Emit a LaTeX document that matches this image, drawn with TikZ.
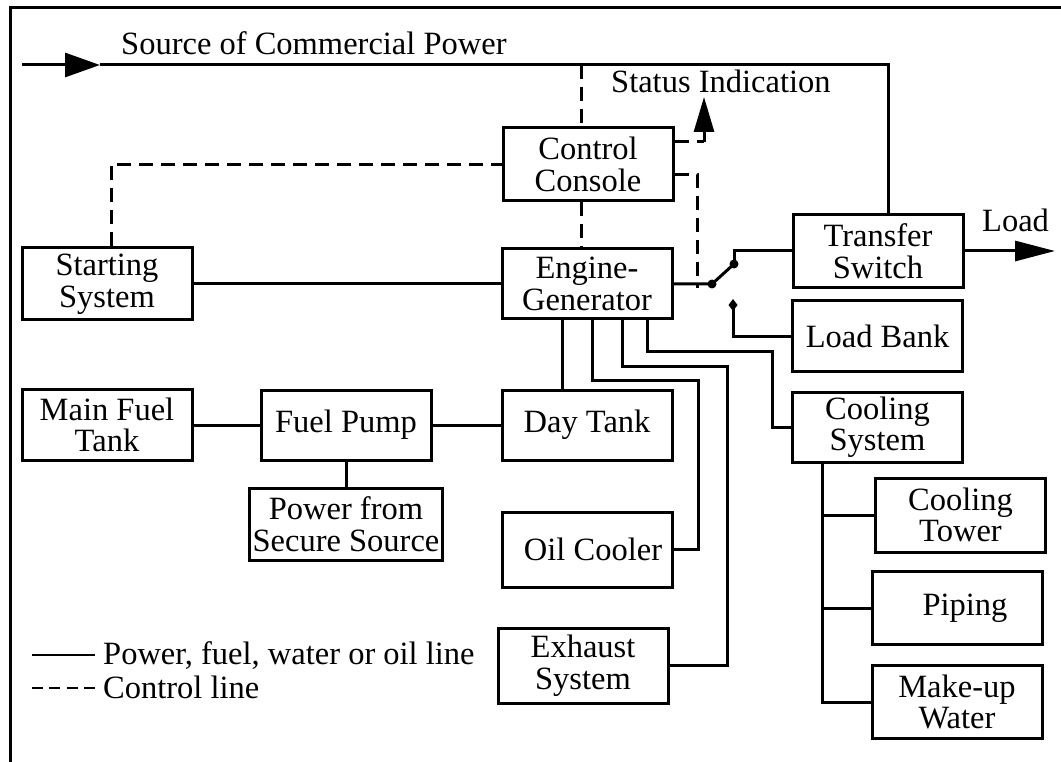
\documentclass[tikz,border=0pt]{standalone}
\usepackage{fontspec}
\setmainfont{Liberation Serif}
\usetikzlibrary{arrows.meta}
\begin{document}
\begin{tikzpicture}[x=1pt,y=-1pt,
  font=\fontsize{32.5}{31.5}\selectfont,
  blk/.style={draw,line width=3pt,align=center,inner sep=0pt,
              minimum width=170pt,minimum height=72pt},
  pw/.style={line width=3pt},
  ctrl/.style={line width=3pt,dash pattern=on 14pt off 8pt},
  dotc/.style={fill=black}]
\useasboundingbox (0,0) rectangle (1061,762);

% frame
\draw[line width=3pt] (10,762) -- (10,8) -- (1061,8);

% blocks
\node[blk,minimum height=73pt] (cc) at (588,164.5) {Control\\Console};
\node[blk,minimum height=70pt] (eg) at (587,284) {Engine-\\Generator};
\node[blk] (ss) at (107,284) {Starting\\System};
\node[blk,minimum height=73pt] (ts) at (878,251) {Transfer\\Switch};
\node[blk,minimum height=70pt] (lb) at (877.5,336) {Load Bank};
\node[blk,minimum height=70pt] (cs) at (877.5,427) {Cooling\\System};
\node[blk,minimum height=71pt] (mft) at (107,425) {Main Fuel\\Tank};
\node[blk,minimum height=70pt] (fp) at (346,425) {Fuel Pump};
\node[blk,minimum height=70pt] (dt) at (587,425) {Day Tank};
\node[blk,minimum width=193pt] (pfss) at (346,524) {Power from\\Secure Source};
\node[blk,minimum height=75pt] (oc) at (587,549.5) {\hspace*{12pt}Oil Cooler};
\node[blk,minimum height=75pt] (es) at (583,665.5) {Exhaust\\System};
\node[blk,minimum height=74pt] (ct) at (960.5,515) {Cooling\\Tower};
\node[blk,minimum height=73pt] (pi) at (957,608) {\hspace*{16pt}Piping};
\node[blk,minimum height=73pt] (mw) at (957,702) {Make-up\\Water};

% labels
\node[anchor=base west,inner sep=0pt] (srclbl) at (121,55) {Source of Commercial Power};
\node[anchor=base west,inner sep=0pt] (stlbl) at (611,93) {Status Indication};
\node[anchor=base west,inner sep=0pt] (ldlbl) at (982,232) {Load};

% commercial power feed
\coordinate (src) at (22,65);
\coordinate (srcarrow) at (100,65);
\draw[pw,-{Triangle[length=35pt,width=24pt]}] (src) -- (srcarrow);
\draw[pw] (srcarrow) -| ([xshift=10pt]ts.north);

% load output
\coordinate (loadend) at (1055,251);
\draw[pw,-{Triangle[length=40pt,width=20pt]}] (ts.east) -- (loadend);

% control lines
\coordinate (tap) at (581,65);
\draw[ctrl] (tap) -- (tap |- cc.north);
\draw[ctrl] (cc.south -| tap) -- (eg.north -| tap);
\draw[ctrl] ([xshift=4pt]ss.north) |- (cc.west);
\coordinate (stc) at (704,142);
\coordinate (status) at (704,97);
\draw[ctrl] ([yshift=22.5pt]cc.east) -- (stc);
\draw[pw,-{Triangle[length=35pt,width=20pt]}] (stc) -- (status);
\coordinate (swctl) at (697,288);
\draw[ctrl] ([yshift=-10.5pt]cc.east) -| (swctl);

% starting system to engine
\draw[pw] (ss.east) -- (eg.west);

% transfer switch contacts
\coordinate (piv) at (712,284);
\coordinate (up) at (734,264);
\coordinate (low) at (733,305);
\draw[pw] (eg.east) -- (piv) -- (up);
\draw[pw] (up) |- (ts.west);
\draw[pw] (low) |- (lb.west);
\fill[dotc] (piv) circle (4.5pt);
\fill[dotc] (up) circle (4.5pt);
\fill[dotc] ([yshift=6pt]low) -- ([xshift=4.5pt]low) -- ([yshift=-6pt]low) -- ([xshift=-4.5pt]low) -- cycle;

% fuel system
\draw[pw] (mft.east) -- (fp.west);
\draw[pw] (fp.east) -- (dt.west);
\draw[pw] (fp.south) -- (pfss.north);
\draw[pw] ([xshift=-25pt]eg.south) -- ([xshift=-25pt]dt.north);

% engine services
\draw[pw] ([xshift=5pt]eg.south) |- (698,380) |- (oc.east);
\draw[pw] ([xshift=35pt]eg.south) |- (727,366) |- (es.east);
\draw[pw] ([xshift=60pt]eg.south) |- (772,351) |- (cs.west);

% cooling system branches
\coordinate (trunk) at (822,0);
\draw[pw] (cs.south -| trunk) |- (mw.west);
\draw[pw] (ct.west) -- (ct.west -| trunk);
\draw[pw] (pi.west) -- (pi.west -| trunk);

% legend
\coordinate (lga) at (32,655);
\coordinate (lgb) at (95,655);
\coordinate (lgc) at (32,688);
\coordinate (lgd) at (95,688);
\draw[line width=2.6pt] (lga) -- (lgb);
\draw[line width=2.6pt,dash pattern=on 11pt off 6.3pt] (lgc) -- (lgd);
\node[anchor=base west,inner sep=0pt] (lgpw) at (103,664) {Power, fuel, water or oil line};
\node[anchor=base west,inner sep=0pt] (lgct) at (103,698) {Control line};
\end{tikzpicture}
\end{document}
